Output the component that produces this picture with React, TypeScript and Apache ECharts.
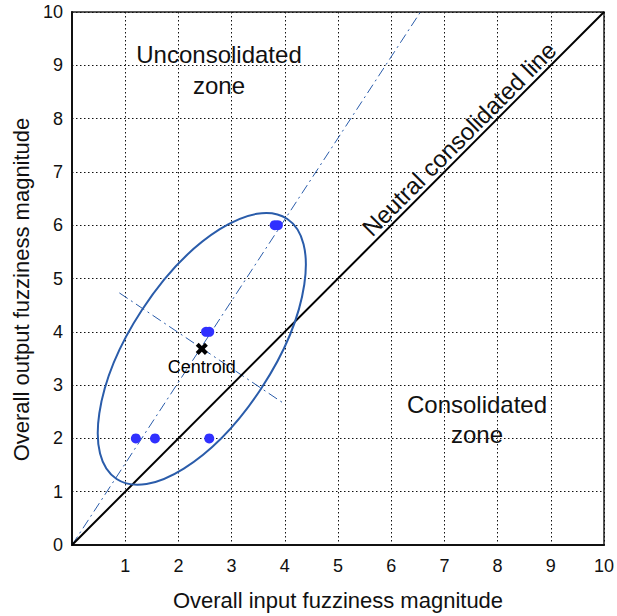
import React, { useEffect, useRef } from "react";
import * as echarts from "echarts";

const xTicks = [0, 1, 2, 3, 4, 5, 6, 7, 8, 9, 10];
const dataPoints: [number, number][] = [
  [1.2, 2],
  [1.56, 2],
  [2.58, 2],
  [2.52, 4],
  [2.58, 4],
  [3.81, 6],
  [3.87, 6],
];
const centroid: [number, number][] = [[2.44, 3.68]];
const neutralLine: [number, number][] = [
  [0, 0],
  [10, 10],
];
const majorAxisLine: [number, number][] = [
  [0, 0],
  [6.55, 10],
];
const minorAxisLine: [number, number][] = [
  [0.89, 4.73],
  [3.96, 2.67],
];
// centre x, centre y, semi-major, semi-minor (data units), tilt (deg)
const ellipseData: number[][] = [[2.44, 3.68, 2.92, 1.34, 56.8]];

const FONT = "'Liberation Sans', Arial, sans-serif";
const BLUE = "#2a5caa";

export default function App() {
  const ref = useRef<HTMLDivElement>(null);
  useEffect(() => {
    if (!ref.current) return;
    const chart = echarts.init(ref.current, null, { renderer: "svg" });
    const option: any = {
      animation: false,
      backgroundColor: "#fff",
      textStyle: { fontFamily: FONT },
      grid: {
        left: 72,
        right: 11,
        top: 12,
        bottom: 70,
        show: true,
        borderColor: "#222",
        borderWidth: 1.5,
      },
      xAxis: {
        type: "value",
        min: xTicks[0],
        max: xTicks[xTicks.length - 1],
        interval: 1,
        name: "Overall input fuzziness magnitude",
        nameLocation: "middle",
        nameGap: 44,
        nameTextStyle: { fontSize: 22, color: "#111", fontFamily: FONT },
        axisLine: { show: true, lineStyle: { color: "#111", width: 2 } },
        axisTick: { show: false },
        axisLabel: {
          fontSize: 18,
          color: "#111",
          margin: 12,
          fontFamily: FONT,
          formatter: (v: number) => (v === 0 ? "" : String(v)),
        },
        splitLine: {
          show: true,
          lineStyle: { color: "#111", type: [1.5, 2.5], width: 1 },
        },
      },
      yAxis: {
        type: "value",
        min: 0,
        max: 10,
        interval: 1,
        name: "Overall output fuzziness magnitude",
        nameLocation: "middle",
        nameGap: 37,
        nameTextStyle: {
          fontSize: 22,
          color: "#111",
          fontFamily: FONT,
          padding: [0, 22, 0, 0],
        },
        axisLine: { show: true, lineStyle: { color: "#111", width: 2 } },
        axisTick: { show: false },
        axisLabel: { fontSize: 18, color: "#111", margin: 9, fontFamily: FONT },
        splitLine: {
          show: true,
          lineStyle: { color: "#111", type: [1.5, 2.5], width: 1 },
        },
      },
      series: [
        {
          type: "line",
          data: neutralLine,
          symbol: "none",
          lineStyle: { color: "#000", width: 2 },
          z: 3,
        },
        {
          type: "line",
          data: majorAxisLine,
          symbol: "none",
          lineStyle: { color: BLUE, width: 1, type: [10, 4, 2, 4] },
          z: 2,
        },
        {
          type: "line",
          data: minorAxisLine,
          symbol: "none",
          lineStyle: { color: BLUE, width: 1, type: [10, 4, 2, 4] },
          z: 2,
        },
        {
          type: "custom",
          data: ellipseData,
          z: 4,
          renderItem: (params: any, api: any) => {
            const c = api.coord([api.value(0), api.value(1)]);
            const s = api.size([1, 1]);
            const unit = (s[0] + s[1]) / 2;
            const rx = api.value(2) * unit;
            const ry = api.value(3) * unit;
            return {
              type: "ellipse",
              x: c[0],
              y: c[1],
              rotation: (api.value(4) * Math.PI) / 180,
              shape: { cx: 0, cy: 0, rx, ry },
              style: { fill: "none", stroke: BLUE, lineWidth: 2 },
            };
          },
        },
        {
          type: "scatter",
          data: dataPoints,
          symbol: "circle",
          symbolSize: 10,
          itemStyle: { color: "#3030ff", opacity: 1 },
          z: 5,
        },
        {
          type: "scatter",
          data: centroid,
          symbol: "path://M3.4,0H6.6V3.4H10V6.6H6.6V10H3.4V6.6H0V3.4H3.4Z",
          symbolSize: 13,
          symbolRotate: 45,
          itemStyle: { color: "#000", opacity: 1 },
          z: 6,
          label: {
            show: true,
            position: "bottom",
            distance: 0,
            formatter: "Centroid",
            fontSize: 18,
            color: "#000",
            fontFamily: FONT,
          },
        },
      ],
      graphic: [
        {
          type: "text",
          x: 219,
          y: 70,
          style: {
            text: "Unconsolidated\nzone",
            fontSize: 24,
            lineHeight: 31,
            fill: "#111",
            fontFamily: FONT,
            align: "center",
            verticalAlign: "middle",
          },
          z: 10,
        },
        {
          type: "text",
          x: 477,
          y: 419,
          style: {
            text: "Consolidated\nzone",
            fontSize: 24,
            lineHeight: 30,
            fill: "#111",
            fontFamily: FONT,
            align: "center",
            verticalAlign: "middle",
          },
          z: 10,
        },
        {
          type: "text",
          x: 459,
          y: 139,
          rotation: Math.PI / 4,
          style: {
            text: "Neutral consolidated line",
            fontSize: 24,
            fill: "#111",
            fontFamily: FONT,
            align: "center",
            verticalAlign: "middle",
          },
          z: 10,
        },
      ],
    };
    chart.setOption(option);
    return () => chart.dispose();
  }, []);
  return (
    <div
      ref={ref}
      style={{ position: "absolute", left: 0, top: 0, width: 617, height: 616 }}
    />
  );
}
